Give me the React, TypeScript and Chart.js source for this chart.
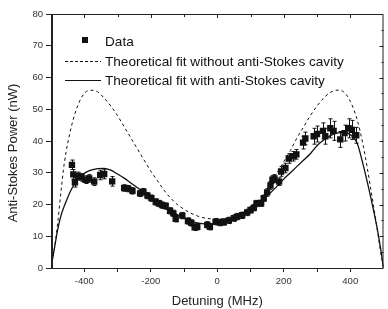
import React, { useEffect, useRef } from "react";
import { Chart, registerables } from "chart.js";

Chart.register(...registerables);

const detuning = [-437, -433, -428, -418, -408, -396, -385, -370, -352, -340, -316, -280, -268, -255, -232, -222, -210, -198, -185, -175, -165, -155, -142, -132, -125, -105, -88, -78, -68, -60, -30, -22, -5, 8, 20, 35, 50, 60, 75, 90, 100, 110, 118, 132, 140, 150, 160, 166, 172, 186, 192, 205, 215, 228, 238, 258, 265, 290, 300, 318, 325, 340, 350, 370, 383, 395, 405, 418];
const power = [32.5, 29.5, 27, 29, 28.5, 27.8, 28.2, 27.2, 29.3, 29.6, 27.3, 25.2, 25.0, 24.3, 23.5, 24.0, 22.8, 22.0, 20.8, 20.3, 19.8, 19.5, 18.0, 17.2, 15.5, 16.5, 14.8, 14.2, 12.8, 13.0, 13.6, 13.0, 14.6, 14.3, 14.5, 15.0, 15.7, 16.2, 16.6, 17.5, 18.3, 19.0, 20.3, 20.4, 22.0, 23.8, 26.0, 27.8, 28.2, 27.2, 30.4, 31.5, 34.5, 35.2, 35.8, 39.5, 40.8, 41.5, 42.2, 43.2, 41.5, 44.0, 43.2, 40.5, 42.5, 44.0, 43.5, 41.8];
const powerErr = [1.5, 1.5, 1.5, 1.2, 1.2, 1.2, 1.2, 1.2, 1.5, 1.5, 1.5, 1.0, 1.0, 1.0, 1.0, 1.0, 1.0, 1.0, 1.0, 1.0, 1.0, 1.0, 1.0, 1.0, 1.0, 1.0, 1.0, 1.0, 1.0, 1.0, 1.0, 1.0, 1.0, 1.0, 1.0, 1.0, 1.0, 1.0, 1.0, 1.0, 1.0, 1.0, 1.0, 1.0, 1.0, 1.2, 1.2, 1.2, 1.2, 1.2, 1.5, 1.5, 1.5, 1.5, 1.5, 2.0, 2.0, 2.5, 2.5, 2.5, 2.5, 3.0, 3.0, 2.5, 2.5, 3.0, 3.0, 2.5];

const fitX = [-500, -490, -480, -470, -460, -440, -420, -400, -380, -360, -340, -320, -300, -280, -260, -240, -220, -200, -180, -160, -140, -120, -100, -80, -60, -40, -20, 0, 20, 40, 60, 80, 100, 120, 140, 160, 180, 200, 220, 240, 260, 280, 300, 320, 340, 360, 380, 400, 420, 440, 460, 480, 490, 500];
const fitNoCavity = [0, 6, 14, 24, 33, 44, 51, 55, 56, 55.5, 53.5, 51, 48, 44.5, 41, 37.5, 34, 30.5, 27.5, 24.5, 22, 20, 18.5, 17.3, 16.4, 15.8, 15.5, 15.4, 15.5, 15.9, 16.6, 17.6, 19, 21, 23.5, 26.5, 30, 33.5, 37, 41, 44.5, 48, 51, 53.5, 55.3, 56, 55.5, 52.5, 47, 38, 26, 13, 6, 0];
const fitWithCavity = [0, 6, 12, 16.5, 19.5, 24.5, 28, 29.8, 30.8, 31.3, 31.4, 30.8, 29.6, 28.3, 26.8, 25.3, 23.8, 22.3, 20.8, 19.4, 18, 16.8, 15.7, 14.8, 14.2, 13.9, 13.8, 14, 14.4, 15, 15.9, 17, 18.4, 20, 21.8, 23.7, 25.8, 28, 30, 32, 34, 36, 38.5, 40.3, 41.7, 42.5, 42.7, 42, 39.5, 32, 23, 13, 7, 0];

const xLabels = [-400, -200, 0, 200, 400];
const legendLabels = ["Data", "Theoretical fit without anti-Stokes cavity", "Theoretical fit with anti-Stokes cavity"];
const yTitle = "Anti-Stokes Power (nW)";
const xTitle = "Detuning (MHz)";

const FONT = "'Liberation Sans', Arial, sans-serif";

const errorBarPlugin = {
  id: "errorBars",
  beforeDatasetsDraw(chart: any) {
    const { ctx, scales } = chart;
    const xs = scales.x, ys = scales.y;
    ctx.save();
    ctx.strokeStyle = "#111";
    ctx.lineWidth = 1;
    detuning.forEach((d, i) => {
      const px = Math.round(xs.getPixelForValue(d)) + 0.5;
      const y1 = ys.getPixelForValue(power[i] + powerErr[i]);
      const y2 = ys.getPixelForValue(power[i] - powerErr[i]);
      ctx.beginPath();
      ctx.moveTo(px, y1); ctx.lineTo(px, y2);
      ctx.moveTo(px - 2, y1); ctx.lineTo(px + 2, y1);
      ctx.moveTo(px - 2, y2); ctx.lineTo(px + 2, y2);
      ctx.stroke();
    });
    ctx.restore();
  },
};

const framePlugin = {
  id: "frame",
  afterDraw(chart: any) {
    const { ctx, chartArea: a, scales } = chart;
    ctx.save();
    ctx.strokeStyle = "#222";
    ctx.lineWidth = 1;
    ctx.strokeRect(a.left + 0.5, a.top + 0.5, a.right - a.left - 1, a.bottom - a.top);
    ctx.lineWidth = 2;
    ctx.beginPath();
    ctx.moveTo(a.left + 1, a.top); ctx.lineTo(a.left + 1, a.bottom);
    ctx.stroke();
    ctx.lineWidth = 1;
    ctx.beginPath();
    for (let v = -400; v <= 400; v += 100) {
      const px = Math.round(scales.x.getPixelForValue(v)) + 0.5;
      const len = v % 200 === 0 ? 4 : 3;
      ctx.moveTo(px, a.top); ctx.lineTo(px, a.top + len);
    }
    for (let v = 5; v < 80; v += 5) {
      const py = Math.round(scales.y.getPixelForValue(v)) + 0.5;
      const len = v % 10 === 0 ? 4 : 2;
      ctx.moveTo(a.right, py); ctx.lineTo(a.right - len, py);
    }
    ctx.stroke();

    // y-axis title
    ctx.save();
    ctx.translate(13, 153);
    ctx.rotate(-Math.PI / 2);
    ctx.fillStyle = "#222";
    ctx.font = `13px ${FONT}`;
    ctx.textAlign = "center";
    ctx.textBaseline = "middle";
    ctx.fillText(yTitle, 0, 0);
    ctx.restore();

    // legend
    const lx = 65, tx = 105;
    const rows = [41, 61, 80];
    ctx.fillStyle = "#111";
    ctx.fillRect(82, rows[0] - 4, 6, 6);
    ctx.strokeStyle = "#111";
    ctx.setLineDash([3, 2]);
    ctx.beginPath();
    ctx.moveTo(lx, rows[1] + 0.5); ctx.lineTo(101, rows[1] + 0.5);
    ctx.stroke();
    ctx.setLineDash([]);
    ctx.lineWidth = 1.2;
    ctx.beginPath();
    ctx.moveTo(lx, rows[2] + 0.5); ctx.lineTo(101, rows[2] + 0.5);
    ctx.stroke();
    ctx.font = `13.6px ${FONT}`;
    ctx.textBaseline = "middle";
    ctx.textAlign = "left";
    legendLabels.forEach((t, i) => ctx.fillText(t, tx, rows[i] + 1));
    ctx.restore();
  },
};

export default function App() {
  const ref = useRef<HTMLCanvasElement | null>(null);
  useEffect(() => {
    document.body.style.margin = "0";
    const chart = new Chart(ref.current as HTMLCanvasElement, {
      type: "scatter",
      data: {
        datasets: [
          {
            label: legendLabels[0],
            data: detuning.map((d, i) => ({ x: d, y: power[i] })),
            pointStyle: "rect",
            pointRadius: 4.5,
            backgroundColor: "#111",
            borderColor: "#111",
            borderWidth: 0,
            order: 0,
          },
          {
            label: legendLabels[1],
            data: fitX.map((d, i) => ({ x: d, y: fitNoCavity[i] })),
            showLine: true,
            pointRadius: 0,
            borderColor: "#111",
            borderWidth: 1,
            borderDash: [3, 3],
            cubicInterpolationMode: "monotone",
            order: 1,
          },
          {
            label: legendLabels[2],
            data: fitX.map((d, i) => ({ x: d, y: fitWithCavity[i] })),
            showLine: true,
            pointRadius: 0,
            borderColor: "#111",
            borderWidth: 1.3,
            cubicInterpolationMode: "monotone",
            order: 2,
          },
        ],
      },
      options: {
        animation: false,
        responsive: false,
        maintainAspectRatio: false,
        layout: { padding: { top: 14, right: 2, left: 0, bottom: 0 } },
        plugins: { legend: { display: false }, tooltip: { enabled: false } },
        scales: {
          x: {
            type: "linear",
            min: -500,
            max: 500,
            afterFit: (s: any) => { s.height = 41; },
            afterBuildTicks: (s: any) => {
              s.ticks = [-400, -300, -200, -100, 0, 100, 200, 300, 400].map((v) => ({ value: v }));
            },
            grid: { drawOnChartArea: false, tickLength: 4, color: "#222" },
            border: { display: false },
            ticks: {
              color: "#333",
              font: { family: FONT, size: 9.5 },
              padding: 4,
              maxRotation: 0,
              autoSkip: false,
              callback: (v: any) => (xLabels.includes(Number(v)) ? String(v) : ""),
            },
            title: { display: true, text: xTitle, color: "#222", font: { family: FONT, size: 13 }, padding: { top: 1, bottom: 0 } },
          },
          y: {
            type: "linear",
            min: 0,
            max: 80,
            afterFit: (s: any) => { s.width = 51; },
            grid: { drawOnChartArea: false, tickLength: 5, color: "#222" },
            border: { display: false },
            ticks: { stepSize: 10, color: "#333", font: { family: FONT, size: 9.5 }, padding: 3 },
          },
        },
      },
      plugins: [errorBarPlugin, framePlugin],
    } as any);
    return () => chart.destroy();
  }, []);
  return (
    <div style={{ position: "absolute", left: 0, top: 0, width: 388, height: 309 }}>
      <canvas ref={ref} width={388} height={309} style={{ display: "block", width: 388, height: 309 }} />
    </div>
  );
}
